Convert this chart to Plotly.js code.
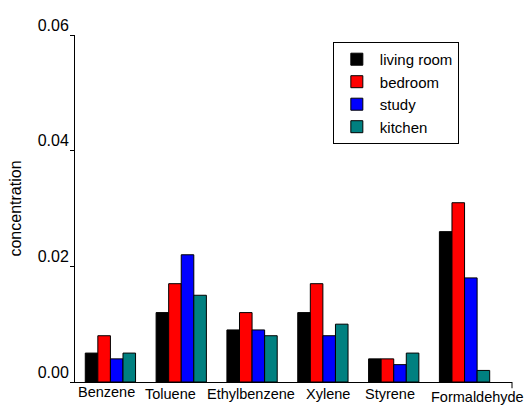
<!DOCTYPE html>
<html>
<head>
<meta charset="utf-8">
<script src="https://cdn.plot.ly/plotly-3.0.1.min.js"></script>
<style>html,body{margin:0;padding:0;background:#fff;}#chart{width:528px;height:405px;}</style>
</head>
<body>
<div id="chart"></div>
<script>
const categories = ["Benzene", "Toluene", "Ethylbenzene", "Xylene", "Styrene", "Formaldehyde"];
const seriesNames = ["living room", "bedroom", "study", "kitchen"];
const livingRoom = [0.005, 0.012, 0.009, 0.012, 0.004, 0.026];
const bedroom    = [0.008, 0.017, 0.012, 0.017, 0.004, 0.031];
const study      = [0.004, 0.022, 0.009, 0.008, 0.003, 0.018];
const kitchen    = [0.005, 0.015, 0.008, 0.010, 0.005, 0.002];
const yTicks = [0, 0.02, 0.04, 0.06];

// label placement tweaks (pixels), as hand-placed in the original figure
const labelDx = [-3.7, -10.8, -0.6, 4.9, -3.9, 13.3];
const labelDy = [0, -1.5, -2, -2.3, -2, -5];

const colors = ["#000000", "#ff0000", "#0000ff", "#008080"];
const values = [livingRoom, bedroom, study, kitchen];
const idx = categories.map((c, i) => i);

const traces = values.map((v, k) => ({
  type: "bar",
  name: seriesNames[k],
  x: idx,
  y: v,
  marker: { color: colors[k], line: { color: "#000000", width: 1 } },
  hoverinfo: "skip"
}));

const font = "Arial, 'Liberation Sans', sans-serif";
const annotations = categories.map((c, i) => ({
  xref: "x", yref: "paper", x: i, y: 0,
  xanchor: "center", yanchor: "top",
  text: c, showarrow: false,
  xshift: labelDx[i], yshift: labelDy[i],
  font: { family: font, size: 14.5, color: "#000000" }
}));

const layout = {
  width: 528, height: 405,
  margin: { l: 75, r: 16, t: 35, b: 23 },
  paper_bgcolor: "#ffffff", plot_bgcolor: "#ffffff",
  barmode: "group", bargap: 0.29, bargroupgap: 0,
  font: { family: font, color: "#000000", size: 15 },
  showlegend: true,
  legend: {
    x: 0.59, y: 0.98, xanchor: "left", yanchor: "top",
    bordercolor: "#000000", borderwidth: 1, bgcolor: "#ffffff",
    font: { family: font, size: 15, color: "#000000" },
    tracegroupgap: 0, itemwidth: 36
  },
  xaxis: {
    range: [-0.5, 5.67],
    tickmode: "array", tickvals: idx, ticktext: categories.map(() => ""),
    showticklabels: false,
    showline: true, linecolor: "#000000", linewidth: 1,
    ticks: "", showgrid: false, zeroline: false,
    fixedrange: true
  },
  yaxis: {
    range: [0, 0.06],
    tickmode: "array", tickvals: yTicks, ticktext: yTicks.map(t => t.toFixed(2)),
    showline: true, linecolor: "#000000", linewidth: 1,
    ticks: "outside", ticklen: 4, tickcolor: "#000000",
    showgrid: false, zeroline: false,
    ticklabelshift: -10, ticklabelstandoff: -2,
    tickfont: { family: font, size: 16, color: "#000000" },
    title: { text: "concentration", font: { family: font, size: 16, color: "#000000" }, standoff: 12 },
    fixedrange: true
  },
  annotations: annotations,
  shapes: [
    { type: "line", xref: "paper", yref: "paper", x0: 1, x1: 1, y0: 0, y1: -0.018,
      line: { color: "#000000", width: 1 } }
  ]
};

Plotly.newPlot("chart", traces, layout, { staticPlot: true, displayModeBar: false });
</script>
</body>
</html>
